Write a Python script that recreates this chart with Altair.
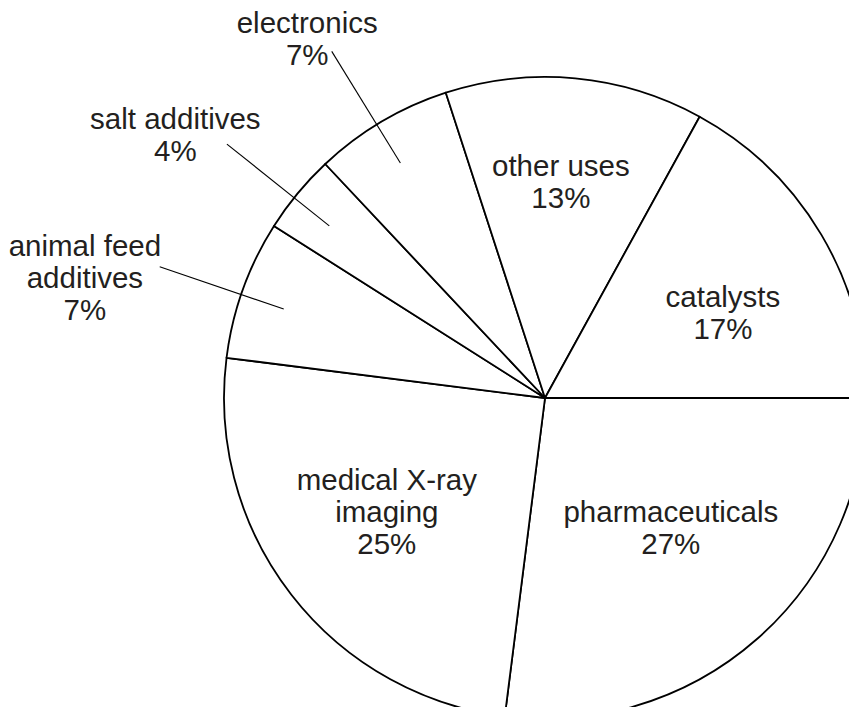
import math
import altair as alt
import pandas as pd

# ---- data ----
categories = ["pharmaceuticals", "medical X-ray imaging", "animal feed additives",
              "salt additives", "electronics", "other uses", "catalysts"]
shares = [27, 25, 7, 4, 7, 13, 17]
label_names = [["pharmaceuticals"], ["medical X-ray", "imaging"], ["animal feed", "additives"],
               ["salt additives"], ["electronics"], ["other uses"], ["catalysts"]]
has_leader = [False, False, True, True, True, False, False]

# ---- style / layout (chart coords; page offset is 8px) ----
CX, CY, R = 537, 390, 321
label_r = [188, 201, 473, 448, 422, 207, 193]
label_shift_deg = [-0.6, -0.3, -6.4, -5.2, -3.7, -1.0, 7.8]
LINE_H = 32
LEADER_R0, LEADER_R1, LEADER_SHIFT = 276, 407, -1.0
FONT = "Liberation Sans"
TEXT_COLOR = "#231f20"

pie_df = pd.DataFrame({"category": categories, "share": shares, "idx": range(len(categories))})

total = sum(shares)
cum = 0
text_rows, leader_rows = [], []
for i, (names, v) in enumerate(zip(label_names, shares)):
    mid = 360.0 * (cum + v / 2) / total
    cum += v
    a = math.radians(mid + label_shift_deg[i])
    lx = CX + label_r[i] * math.cos(a)
    ly = CY + label_r[i] * math.sin(a)
    lines = names + [f"{v}%"]
    n = len(lines)
    for j, t in enumerate(lines):
        text_rows.append({"x": lx, "y": ly + (j - (n - 1) / 2) * LINE_H, "t": t})
    if has_leader[i]:
        b = math.radians(mid + LEADER_SHIFT)
        leader_rows.append({
            "x": CX + LEADER_R0 * math.cos(b), "y": CY + LEADER_R0 * math.sin(b),
            "x2": CX + LEADER_R1 * math.cos(b), "y2": CY + LEADER_R1 * math.sin(b),
        })

text_df = pd.DataFrame(text_rows)
leader_df = pd.DataFrame(leader_rows)

arc = alt.Chart(pie_df).mark_arc(
    radius=R, fill="white", stroke="black", strokeWidth=1.8, strokeJoin="round"
).encode(
    theta=alt.Theta("share:Q", stack=True,
                    scale=alt.Scale(range=[math.pi / 2, math.pi / 2 + 2 * math.pi])),
    order=alt.Order("idx:Q"),
    x=alt.value(CX),
    y=alt.value(CY),
)

leaders = alt.Chart(leader_df).mark_rule(color="black", strokeWidth=1.1).encode(
    x=alt.X("x:Q", scale=None), y=alt.Y("y:Q", scale=None),
    x2="x2:Q", y2="y2:Q",
)

labels = alt.Chart(text_df).mark_text(
    font=FONT, fontSize=29.5, color=TEXT_COLOR, align="center", baseline="alphabetic"
).encode(
    x=alt.X("x:Q", scale=None), y=alt.Y("y:Q", scale=None), text="t:N",
)

chart = alt.layer(arc, leaders, labels).properties(
    width=841, height=699, autosize="none", padding=0
).configure_view(stroke=None)

chart.save("out.html", embed_options={"renderer": "svg", "actions": False})
